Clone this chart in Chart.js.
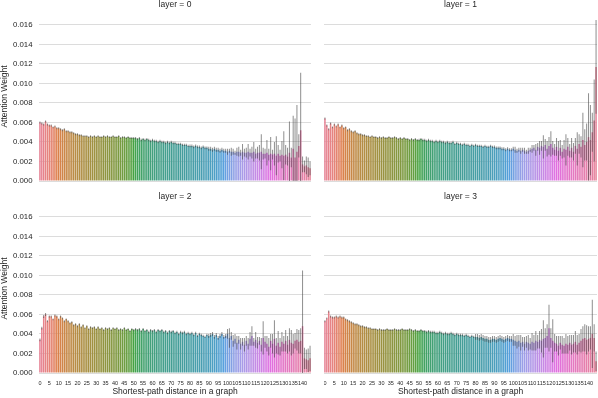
<!DOCTYPE html>
<html>
<head>
<meta charset="utf-8">
<script src="https://cdn.jsdelivr.net/npm/chart.js@4.4.0/dist/chart.umd.min.js"></script>
<style>
  html, body { margin: 0; padding: 0; background: #fff; }
  #wrap { position: relative; width: 598px; height: 398px; overflow: hidden; }
  canvas { position: absolute; }
</style>
</head>
<body>
<div id="wrap">
  <canvas id="c0" width="311" height="190" style="left:0;top:0"></canvas>
  <canvas id="c1" width="273" height="190" style="left:324px;top:0"></canvas>
  <canvas id="c2" width="311" height="206" style="left:0;top:192px"></canvas>
  <canvas id="c3" width="273" height="206" style="left:324px;top:192px"></canvas>
</div>
<script>
// shortest-path distance 0..144
const distances = Array.from({ length: 145 }, (_, i) => String(i));
const yTicks = [0, 0.002, 0.004, 0.006, 0.008, 0.010, 0.012, 0.014, 0.016];
const yMax = 0.01733;

// mean attention weight per distance
const mean0 = [
  .0060,.0059,.0058,.0061,.0058,.0057,.0057,.0055,.0056,.0054,
  .0054,.0053,.0052,.0053,.0051,.0051,.0050,.0050,.0049,.0048,
  .0048,.0047,.0047,.0046,.0046,.0046,.0045,.0046,.0045,.0046,
  .0045,.0046,.0045,.0045,.0046,.0045,.0046,.0045,.0045,.0046,
  .0045,.0045,.0046,.0044,.0045,.0045,.0044,.0045,.0044,.0044,
  .0044,.0044,.0043,.0044,.0042,.0043,.0042,.0043,.0042,.0041,
  .0042,.0041,.0041,.0040,.0041,.0040,.0040,.0039,.0040,.0039,
  .0040,.0039,.0039,.0038,.0038,.0038,.0037,.0037,.0037,.0036,
  .0036,.0036,.0035,.0036,.0035,.0035,.0034,.0035,.0034,.0034,
  .0033,.0033,.0032,.0033,.0032,.0032,.0031,.0032,.0031,.0031,
  .0030,.0031,.0030,.0030,.0029,.0030,.0030,.0029,.0030,.0029,
  .0029,.0030,.0029,.0029,.0030,.0028,.0029,.0029,.0030,.0028,
  .0028,.0029,.0027,.0028,.0027,.0028,.0026,.0028,.0026,.0027,
  .0026,.0027,.0025,.0029,.0024,.0033,.0024,.0030,.0036,.0052,
  .0017,.0015,.0016,.0014,.0013
];
const err0 = [
  .0001,.0001,.0001,.0001,.0001,.0001,.0001,.0001,.0001,.0001,
  .0001,.0001,.0001,.0001,.0001,.0001,.0001,.0001,.0001,.0001,
  .0001,.0001,.0001,.0001,.0001,.0001,.0001,.0001,.0001,.0001,
  .0001,.0001,.0001,.0001,.0001,.0001,.0001,.0001,.0001,.0001,
  .0001,.0001,.0001,.0001,.0001,.0001,.0001,.0001,.0001,.0001,
  .00012,.00012,.00012,.00012,.00012,.00012,.00012,.00012,.00012,.00012,
  .00012,.00012,.00012,.00012,.00012,.00012,.00012,.00012,.00012,.00012,
  .00012,.00012,.00012,.00012,.00012,.00012,.00012,.00012,.00012,.00012,
  .00015,.00015,.00015,.00015,.00015,.00015,.00015,.00015,.00015,.00015,
  .0002,.0002,.0002,.0002,.0002,.0002,.0002,.0002,.0002,.0002,
  .0003,.0002,.0004,.0003,.0002,.0004,.0005,.0003,.0008,.0004,
  .0005,.0008,.0004,.0006,.0010,.0005,.0006,.0008,.0018,.0006,
  .0005,.0013,.0006,.0017,.0005,.0012,.0020,.0009,.0006,.0014,
  .0025,.0010,.0009,.0032,.0010,.0034,.0040,.0048,.0012,.0059,
  .0008,.0006,.0009,.0010,.0007
];

const mean1 = [
  .0064,.0057,.0053,.0059,.0055,.0058,.0056,.0058,.0055,.0057,
  .0054,.0055,.0052,.0053,.0051,.0050,.0051,.0049,.0048,.0048,
  .0047,.0047,.0046,.0046,.0045,.0046,.0045,.0045,.0044,.0045,
  .0044,.0045,.0044,.0044,.0045,.0044,.0044,.0045,.0044,.0043,
  .0044,.0043,.0044,.0043,.0043,.0042,.0043,.0042,.0043,.0042,
  .0042,.0043,.0042,.0042,.0041,.0042,.0041,.0041,.0040,.0041,
  .0040,.0041,.0040,.0040,.0039,.0040,.0039,.0039,.0040,.0038,
  .0039,.0038,.0038,.0037,.0038,.0037,.0037,.0036,.0037,.0036,
  .0037,.0036,.0036,.0036,.0035,.0036,.0035,.0035,.0036,.0035,
  .0035,.0034,.0034,.0034,.0033,.0033,.0032,.0033,.0032,.0032,
  .0033,.0032,.0031,.0032,.0031,.0032,.0031,.0030,.0031,.0032,
  .0033,.0034,.0032,.0035,.0034,.0036,.0035,.0037,.0033,.0036,
  .0038,.0034,.0032,.0035,.0031,.0034,.0030,.0033,.0032,.0035,
  .0031,.0034,.0030,.0036,.0033,.0038,.0035,.0042,.0037,.0040,
  .0045,.0042,.0050,.0062,.0117
];
const err1 = [
  .0001,.0001,.0001,.0001,.0001,.0001,.0001,.0001,.0001,.0001,
  .0001,.0001,.0001,.0001,.0001,.0001,.0001,.0001,.0001,.0001,
  .0001,.0001,.0001,.0001,.0001,.0001,.0001,.0001,.0001,.0001,
  .0001,.0001,.0001,.0001,.0001,.0001,.0001,.0001,.0001,.0001,
  .0001,.0001,.0001,.0001,.0001,.0001,.0001,.0001,.0001,.0001,
  .00012,.00012,.00012,.00012,.00012,.00012,.00012,.00012,.00012,.00012,
  .00012,.00012,.00012,.00012,.00012,.00012,.00012,.00012,.00012,.00012,
  .00012,.00012,.00012,.00012,.00012,.00012,.00012,.00012,.00012,.00012,
  .00012,.00012,.00012,.00012,.00012,.00012,.00012,.00012,.00012,.00012,
  .00015,.00015,.00015,.00015,.00015,.00015,.00015,.00015,.00015,.00015,
  .0002,.0003,.0002,.0002,.0003,.0002,.0003,.0002,.0003,.0002,
  .0004,.0003,.0006,.0004,.0007,.0005,.0012,.0006,.0008,.0009,
  .0013,.0007,.0006,.0009,.0010,.0008,.0007,.0009,.0016,.0009,
  .0007,.0010,.0009,.0008,.0017,.0010,.0011,.0028,.0016,.0019,
  .0045,.0036,.0020,.0042,.0048
];

const mean2 = [
  .0034,.0046,.0058,.0060,.0053,.0058,.0058,.0055,.0059,.0058,
  .0055,.0058,.0056,.0053,.0055,.0053,.0051,.0052,.0049,.0050,
  .0048,.0050,.0047,.0049,.0046,.0048,.0045,.0047,.0046,.0047,
  .0045,.0047,.0045,.0046,.0044,.0046,.0045,.0046,.0044,.0046,
  .0045,.0046,.0044,.0045,.0044,.0046,.0044,.0045,.0043,.0045,
  .0044,.0045,.0044,.0045,.0043,.0045,.0043,.0044,.0042,.0044,
  .0043,.0044,.0042,.0044,.0043,.0044,.0042,.0043,.0041,.0043,
  .0042,.0043,.0041,.0042,.0040,.0042,.0041,.0042,.0040,.0041,
  .0040,.0041,.0039,.0041,.0038,.0040,.0039,.0038,.0037,.0039,
  .0038,.0039,.0040,.0037,.0039,.0036,.0038,.0040,.0037,.0038,
  .0040,.0036,.0038,.0033,.0035,.0031,.0034,.0030,.0032,.0029,
  .0033,.0030,.0035,.0038,.0032,.0034,.0031,.0033,.0029,.0036,
  .0032,.0030,.0027,.0033,.0030,.0035,.0028,.0031,.0027,.0032,
  .0030,.0033,.0029,.0034,.0031,.0030,.0033,.0034,.0032,.0033,
  .0048,.0015,.0014,.0013,.0015
];
const err2 = [
  .00015,.00015,.00015,.00015,.0001,.0001,.0001,.0001,.0001,.0001,
  .0001,.0001,.0001,.0001,.0001,.0001,.0001,.0001,.0001,.0001,
  .0001,.0001,.0001,.0001,.0001,.0001,.0001,.0001,.0001,.0001,
  .0001,.0001,.0001,.0001,.0001,.0001,.0001,.0001,.0001,.0001,
  .0001,.0001,.0001,.0001,.0001,.0001,.0001,.0001,.0001,.0001,
  .00012,.00012,.00012,.00012,.00012,.00012,.00012,.00012,.00012,.00012,
  .00012,.00012,.00012,.00012,.00012,.00012,.00012,.00012,.00012,.00012,
  .00012,.00012,.00012,.00012,.00012,.00012,.00012,.00012,.00012,.00012,
  .00012,.00012,.00012,.00012,.00012,.00012,.00012,.00012,.00012,.00012,
  .0002,.0002,.0002,.0002,.0002,.0002,.0002,.0002,.0002,.0002,
  .0005,.0010,.0004,.0006,.0005,.0007,.0004,.0006,.0004,.0007,
  .0005,.0006,.0007,.0010,.0004,.0008,.0006,.0004,.0007,.0017,
  .0006,.0008,.0009,.0007,.0010,.0019,.0008,.0012,.0009,.0010,
  .0008,.0011,.0009,.0012,.0013,.0010,.0008,.0011,.0012,.0013,
  .0057,.0011,.0010,.0012,.0013
];

const mean3 = [
  .0053,.0056,.0063,.0058,.0057,.0057,.0058,.0057,.0058,.0057,
  .0057,.0055,.0054,.0053,.0052,.0051,.0050,.0050,.0049,.0048,
  .0048,.0047,.0047,.0046,.0046,.0045,.0045,.0045,.0044,.0045,
  .0044,.0044,.0044,.0045,.0044,.0044,.0044,.0045,.0044,.0044,
  .0044,.0045,.0044,.0044,.0044,.0045,.0044,.0043,.0044,.0043,
  .0043,.0044,.0043,.0043,.0042,.0043,.0042,.0042,.0042,.0041,
  .0041,.0042,.0041,.0040,.0041,.0040,.0040,.0041,.0040,.0039,
  .0040,.0039,.0039,.0039,.0038,.0039,.0038,.0037,.0038,.0037,
  .0037,.0037,.0036,.0037,.0036,.0035,.0035,.0034,.0034,.0035,
  .0035,.0034,.0035,.0036,.0035,.0034,.0035,.0036,.0035,.0035,
  .0034,.0033,.0032,.0033,.0031,.0032,.0030,.0032,.0031,.0030,
  .0032,.0031,.0033,.0032,.0034,.0033,.0035,.0036,.0038,.0046,
  .0036,.0033,.0031,.0030,.0028,.0031,.0029,.0028,.0030,.0029,
  .0031,.0029,.0030,.0032,.0029,.0031,.0033,.0035,.0036,.0034,
  .0035,.0036,.0040,.0036,.0012
];
const err3 = [
  .0001,.0001,.0001,.0001,.0001,.0001,.0001,.0001,.0001,.0001,
  .0001,.0001,.0001,.0001,.0001,.0001,.0001,.0001,.0001,.0001,
  .0001,.0001,.0001,.0001,.0001,.0001,.0001,.0001,.0001,.0001,
  .0001,.0001,.0001,.0001,.0001,.0001,.0001,.0001,.0001,.0001,
  .0001,.0001,.0001,.0001,.0001,.0001,.0001,.0001,.0001,.0001,
  .00012,.00012,.00012,.00012,.00012,.00012,.00012,.00012,.00012,.00012,
  .00012,.00012,.00012,.00012,.00012,.00012,.00012,.00012,.00012,.00012,
  .00012,.00012,.00012,.00012,.00012,.00012,.00012,.00012,.00012,.00012,
  .0003,.0003,.0003,.0003,.0003,.0003,.0003,.0003,.0003,.0003,
  .0003,.0003,.0003,.0003,.0003,.0003,.0003,.0003,.0003,.0003,
  .0006,.0005,.0007,.0006,.0008,.0005,.0007,.0006,.0008,.0006,
  .0009,.0008,.0010,.0007,.0009,.0012,.0019,.0010,.0012,.0024,
  .0010,.0022,.0009,.0008,.0010,.0007,.0009,.0008,.0010,.0009,
  .0008,.0010,.0009,.0011,.0010,.0009,.0012,.0013,.0014,.0015,
  .0013,.0012,.0035,.0014,.0010
];

// seaborn "husl" palette (h=.01, s=.9, l=.65) desaturated to .75 like barplot does
const M = [[3.2406, -1.5372, -0.4986], [-0.9689, 1.8758, 0.0415], [0.0557, -0.2040, 1.0570]];
function maxChroma(L, H) {
  const hr = H / 180 * Math.PI, sinH = Math.sin(hr), cosH = Math.cos(hr);
  const sub1 = Math.pow(L + 16, 3) / 1560896;
  const sub2 = sub1 > 0.008856 ? sub1 : L / 903.3;
  let res = Infinity;
  for (const [m1, m2, m3] of M) {
    const top = (0.99915 * m1 + 1.05122 * m2 + 1.14460 * m3) * sub2;
    const rb = 0.86330 * m3 - 0.17266 * m2;
    const lb = 0.12949 * m3 - 0.38848 * m1;
    const bottom = (rb * sinH + lb * cosH) * sub2;
    for (const t of [0, 1]) {
      const C = L * (top - 1.05122 * t) / (bottom + 0.17266 * sinH * t);
      if (C > 0 && C < res) res = C;
    }
  }
  return res;
}
function huslToRgb(h, s, l) {
  const C = maxChroma(l, h) / 100 * s;
  const hr = h / 180 * Math.PI;
  const U = Math.cos(hr) * C, V = Math.sin(hr) * C;
  const t = (l + 16) / 116;
  const Y = t * t * t > 0.008856 ? t * t * t : l / 903.3;
  const u = U / (13 * l) + 0.19784, v = V / (13 * l) + 0.46834;
  const X = -(9 * Y * u) / ((u - 4) * v - u * v);
  const Z = (9 * Y - 15 * v * Y - v * X) / (3 * v);
  return M.map(r => {
    let c = r[0] * X + r[1] * Y + r[2] * Z;
    c = c <= 0.0031308 ? 12.92 * c : 1.055 * Math.pow(c, 1 / 2.4) - 0.055;
    return Math.min(1, Math.max(0, c));
  });
}
function desaturate(rgb, p) {
  const l = (Math.max(...rgb) + Math.min(...rgb)) / 2;
  return rgb.map(c => l + (c - l) * p);
}
const n = distances.length;
const colors = distances.map((_, i) => {
  const h = ((i / n + 0.01) % 1) * 359;
  const c = desaturate(huslToRgb(h, 0.9 * 99, 0.65 * 99), 0.75);
  return `rgb(${c.map(x => Math.round(x * 255)).join(',')})`;
});

Chart.defaults.font.family = '"Liberation Sans", Arial, sans-serif';
Chart.defaults.color = '#262626';

const panelTitle = {
  id: 'panelTitle',
  afterDraw(chart, args, opts) {
    const { ctx, chartArea } = chart;
    ctx.save();
    ctx.font = '8.5px "Liberation Sans", Arial, sans-serif';
    ctx.fillStyle = '#262626';
    ctx.textAlign = 'center';
    ctx.textBaseline = 'middle';
    ctx.fillText(opts.text, (chartArea.left + chartArea.right) / 2, 5);
    ctx.restore();
  }
};

const panels = [
  { id: 'c0', title: 'layer = 0', mean: mean0, err: err0, left: true, bottom: false },
  { id: 'c1', title: 'layer = 1', mean: mean1, err: err1, left: false, bottom: false },
  { id: 'c2', title: 'layer = 2', mean: mean2, err: err2, left: true, bottom: true },
  { id: 'c3', title: 'layer = 3', mean: mean3, err: err3, left: false, bottom: true }
];

function makeChart(p) {
  new Chart(document.getElementById(p.id), {
    type: 'bar',
    data: {
      labels: distances,
      datasets: [
        {
          data: p.mean.map((v, i) => [v - p.err[i], v + p.err[i]]),
          backgroundColor: 'rgba(66,66,66,0.6)',
          barThickness: 1,
          inflateAmount: 0,
          grouped: false,
          order: 0
        },
        {
          data: p.mean,
          backgroundColor: colors,
          barPercentage: 0.8,
          categoryPercentage: 1,
          order: 1
        }
      ]
    },
    options: {
      responsive: false,
      animation: false,
      layout: { padding: { top: 12, right: 0, bottom: p.bottom ? 0 : 9, left: 0 } },
      plugins: {
        legend: { display: false },
        tooltip: { enabled: false },
        panelTitle: { text: p.title }
      },
      scales: {
        x: {
          display: p.bottom,
          grid: { display: false, drawTicks: false },
          border: { display: false },
          ticks: {
            autoSkip: false,
            maxRotation: 0,
            minRotation: 0,
            padding: 7,
            font: { size: 5.5 },
            callback: (v, i) => (i % 5 === 0 ? distances[i] : '')
          },
          title: {
            display: true,
            text: 'Shortest-path distance in a graph',
            font: { size: 8.5 },
            padding: { top: 0, bottom: 1 }
          },
          afterFit: sc => {
            if (!p.bottom) return;
            sc.height = 25;
            sc.paddingLeft = 0;
            sc.paddingRight = 0;
          }
        },
        y: {
          min: 0,
          max: yMax,
          grid: { color: '#dcdcdc', lineWidth: 1, drawTicks: false },
          border: { display: false },
          afterBuildTicks: sc => { sc.ticks = yTicks.map(v => ({ value: v })); },
          ticks: {
            display: p.left,
            padding: 6.5,
            font: { size: 7.8 },
            callback: v => v.toFixed(3)
          },
          title: {
            display: p.left,
            text: 'Attention Weight',
            font: { size: 8.5 },
            padding: { top: 0, bottom: 0 }
          },
          afterFit: sc => {
            sc.width = p.left ? 39 : 0;
            sc.paddingTop = 0;
            sc.paddingBottom = 0;
          }
        }
      }
    },
    plugins: [panelTitle]
  });
}

panels.forEach(makeChart);
</script>
</body>
</html>
